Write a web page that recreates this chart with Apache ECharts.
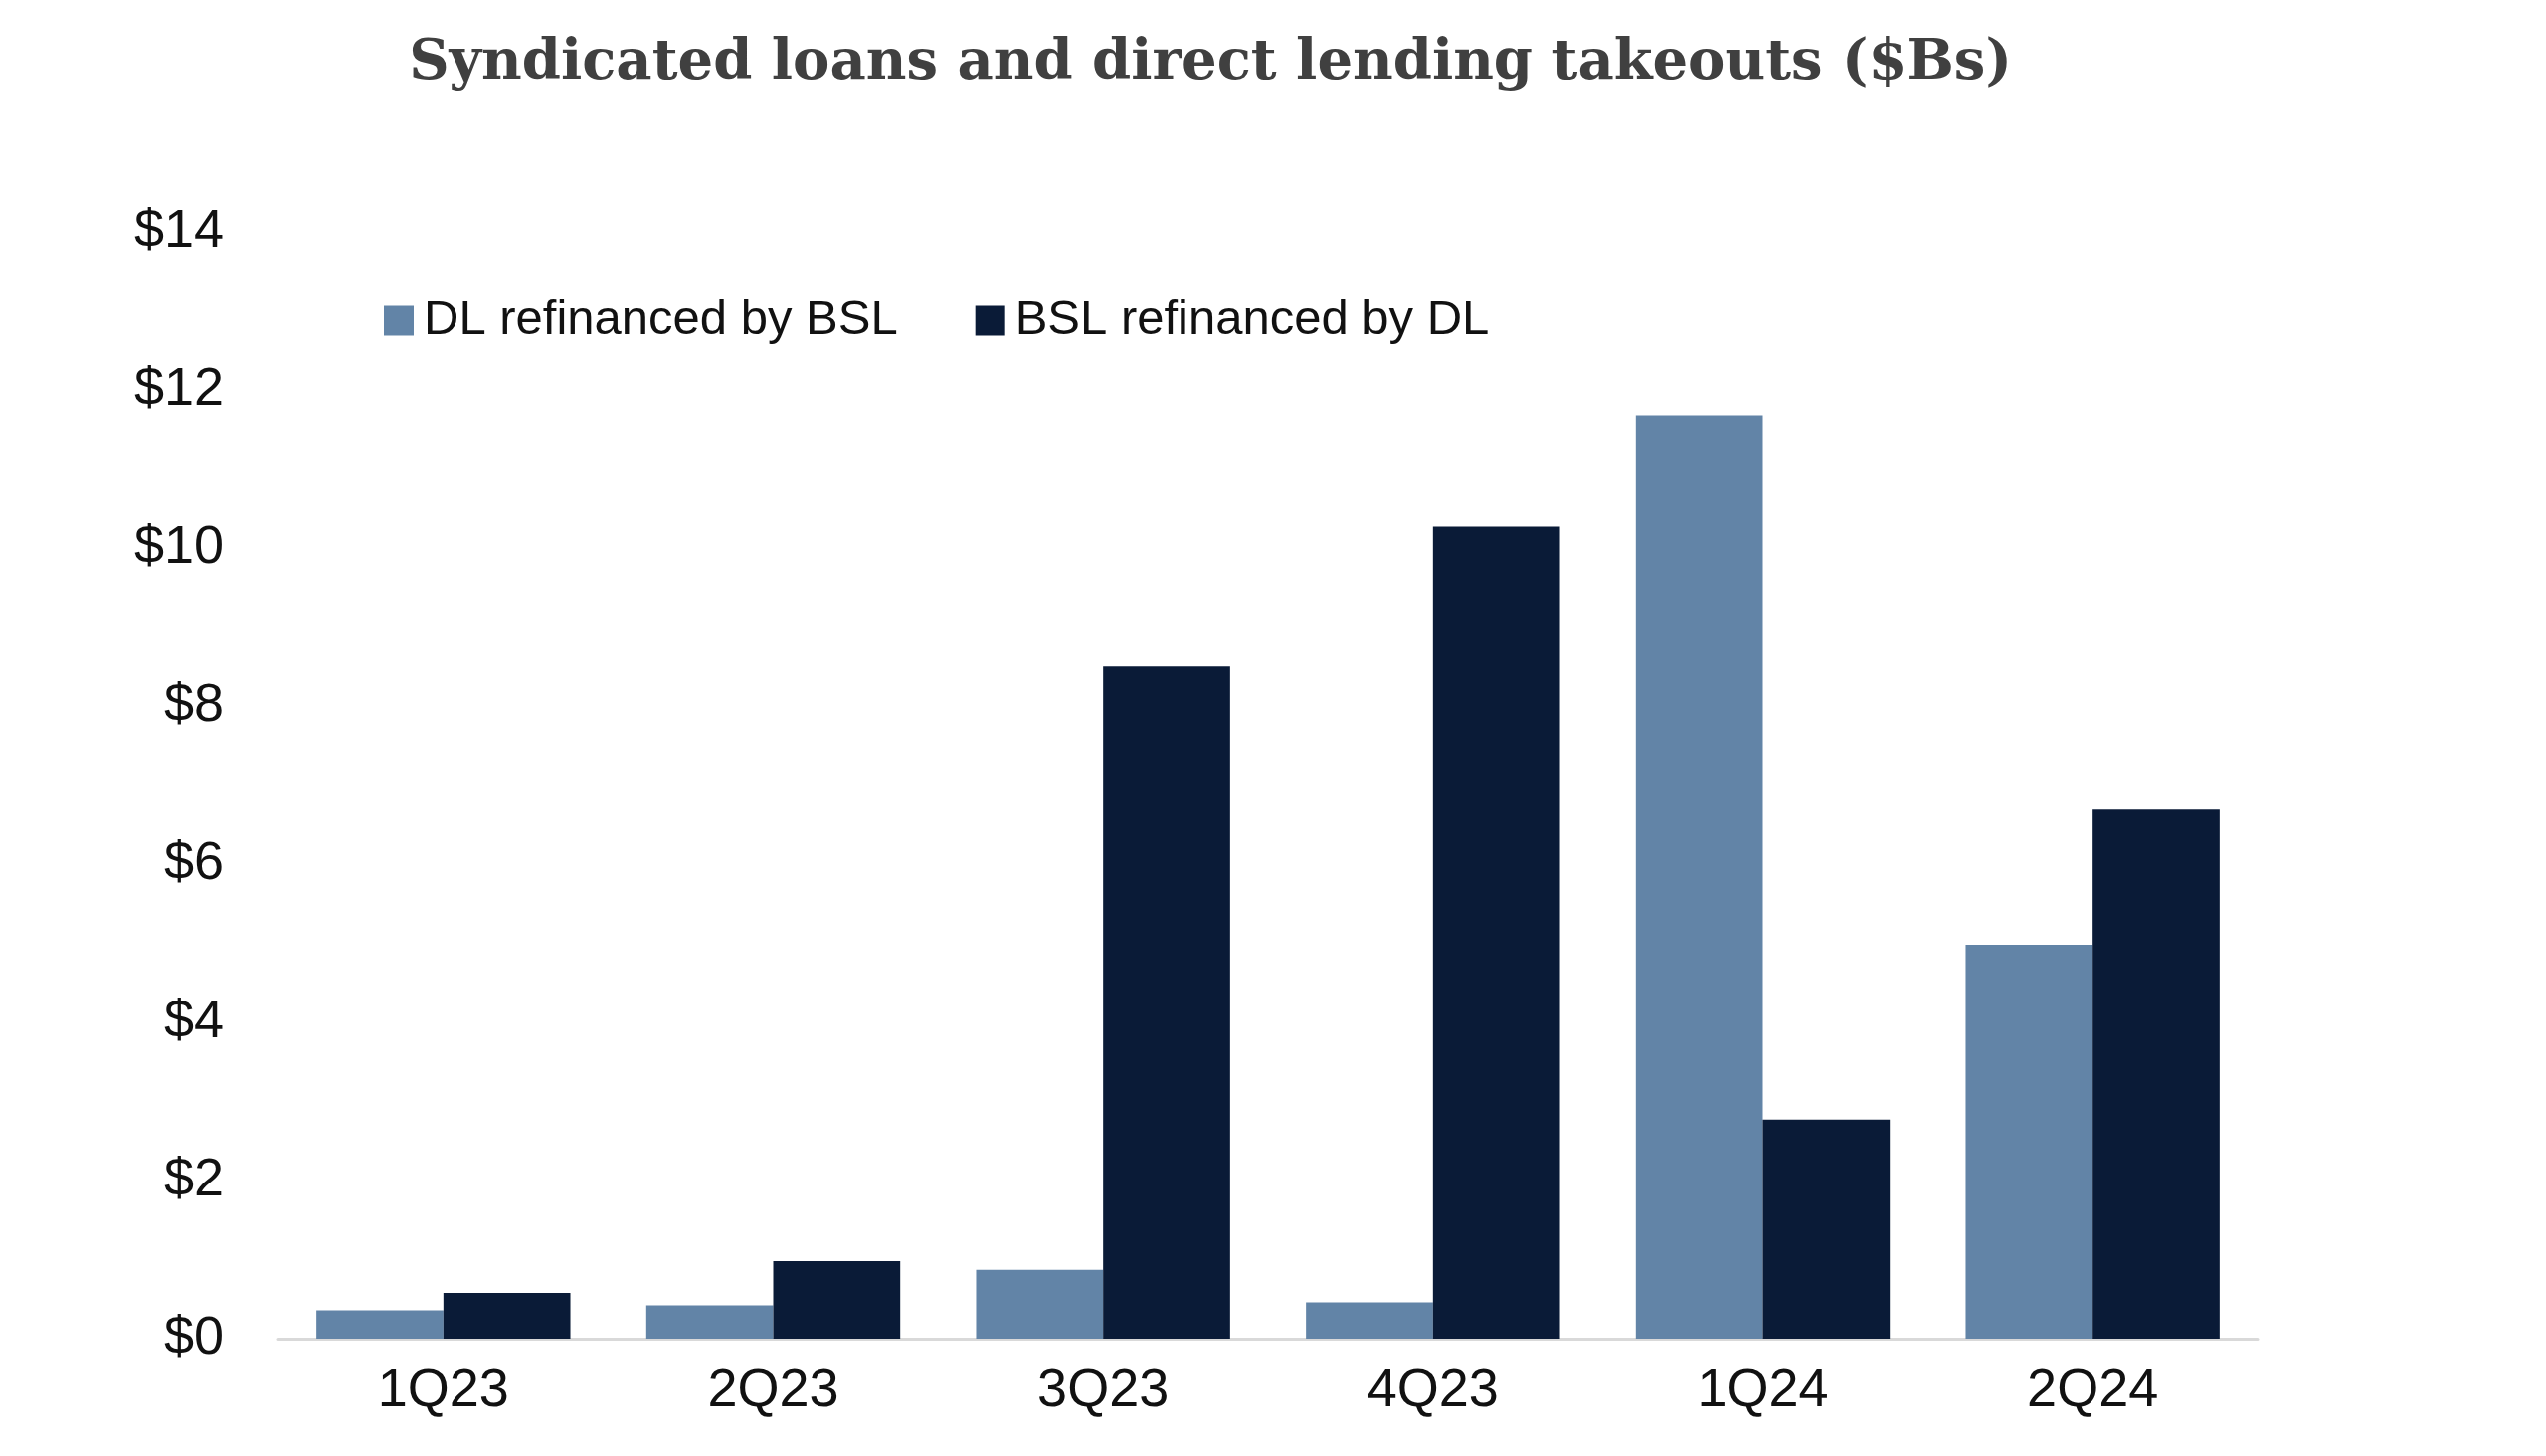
<!DOCTYPE html>
<html>

<head>
    <meta charset="utf-8">
    <title>Syndicated loans and direct lending takeouts</title>
    <script src="https://cdn.jsdelivr.net/npm/echarts@6/dist/echarts.min.js"></script>
    <style>
        html, body { margin: 0; padding: 0; background: #ffffff; }
        #main { width: 2560px; height: 1464px; }
    </style>
</head>

<body>
    <div id="main"></div>
    <script>
        // data ($Bs)
        var quarters = ['1Q23', '2Q23', '3Q23', '4Q23', '1Q24', '2Q24'];
        var dlRefiByBsl = [0.36, 0.42, 0.87, 0.46, 11.68, 4.98];
        var bslRefiByDl = [0.58, 0.98, 8.5, 10.27, 2.77, 6.7];
        var seriesNames = ['DL refinanced by BSL', 'BSL refinanced by DL'];

        var myChart = echarts.init(document.getElementById('main'));
        myChart.setOption({
            animation: false,
            //标题
            title: {
                text: 'Syndicated loans and direct lending takeouts ($Bs)',
                left: 1212,
                top: 31,
                textAlign: 'center',
                textStyle: {
                    fontFamily: 'DejaVu Serif',
                    fontWeight: 'bold',
                    fontSize: 56,
                    color: '#404040'
                }
            },
            //图例
            legend: {
                data: seriesNames,
                left: 381,
                top: 293,
                icon: 'rect',
                itemWidth: 30,
                itemHeight: 30,
                itemGap: 78,
                textStyle: {
                    fontFamily: 'Liberation Sans',
                    fontSize: 49,
                    color: '#111111',
                    padding: [0, 0, 0, 5]
                }
            },
            grid: {
                left: 280,
                right: 290,
                top: 233,
                bottom: 118
            },
            xAxis: {
                type: 'category',
                data: quarters,
                axisLine: { lineStyle: { color: '#d9d9d9', width: 3 } },
                axisTick: { show: false },
                axisLabel: {
                    margin: 26,
                    fontFamily: 'Liberation Sans',
                    fontSize: 54,
                    color: '#111111'
                }
            },
            yAxis: {
                type: 'value',
                min: 0,
                max: 14,
                interval: 2,
                axisLine: { show: false },
                axisTick: { show: false },
                splitLine: { show: false },
                axisLabel: {
                    margin: 55,
                    fontFamily: 'Liberation Sans',
                    fontSize: 54,
                    color: '#111111',
                    formatter: '${value}'
                }
            },
            series: [{
                name: seriesNames[0],
                type: 'bar',
                data: dlRefiByBsl,
                color: '#6284a7',
                barGap: '0%',
                barCategoryGap: '23%'
            }, {
                name: seriesNames[1],
                type: 'bar',
                data: bslRefiByDl,
                color: '#0a1b37',
                barGap: '0%',
                barCategoryGap: '23%'
            }]
        });
    </script>
</body>

</html>
